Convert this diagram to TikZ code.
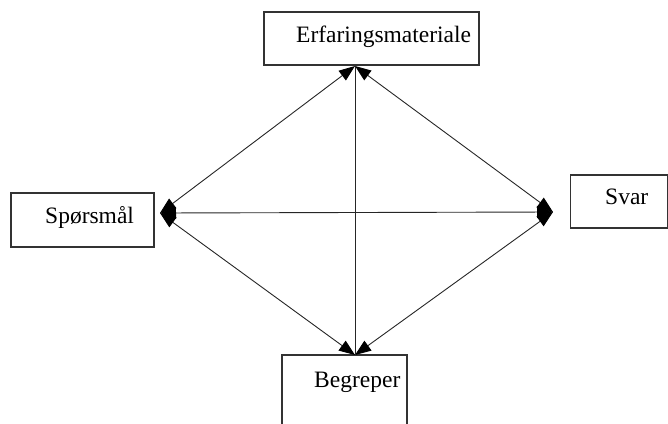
\documentclass[tikz,border=0pt]{standalone}
\usepackage{fontspec}
\setmainfont{Liberation Serif}
\usetikzlibrary{arrows.meta}
\begin{document}
\begin{tikzpicture}[x=1pt,y=-1pt,
  box/.style={draw=black!80,line width=1.3pt,inner sep=0pt,minimum width=#1},
  lbl/.style={inner sep=0pt,anchor=base west,font=\fontsize{23.5}{27}\selectfont},
  tip/.tip={Triangle[length=16pt,width=12pt,color=black]},
  link/.style={black!85,line width=0.9pt,tip-tip},
  plainlink/.style={black!85,line width=0.9pt}]
  \useasboundingbox (0,0) rectangle (668,423);
  \begin{scope}
    \clip (0,0) rectangle (668,423);
    % boxes
    \node[box=215pt,minimum height=53pt] (erfbox) at (371.5,38.5) {};
    \node[box=143pt,minimum height=54pt] (spbox) at (82.5,220) {};
    \node[box=97pt,minimum height=53pt] (svbox) at (619,201.5) {};
    \node[box=125pt,minimum height=100pt] (begbox) at (344.5,405) {};
  \end{scope}
  % labels
  \node[lbl] (erf) at (296,42) {Erfaringsmateriale};
  \node[lbl] (sp) at (45,223) {Spørsmål};
  \node[lbl] (sv) at (605,204) {Svar};
  \node[lbl] (beg) at (314,387) {Begreper};
  % meeting points of the connectors
  \coordinate (top) at (355,66);
  \coordinate (left) at (160,213);
  \coordinate (right) at (553,212);
  \coordinate (bottom) at (355,355);
  % connectors
  \draw[link] (left) -- (top);
  \draw[link] (top) -- (right);
  \draw[link] (left) -- (right);
  \draw[link] (left) -- (bottom);
  \draw[link] (bottom) -- (right);
  \draw[plainlink] (top) -- (bottom);
\end{tikzpicture}
\end{document}
